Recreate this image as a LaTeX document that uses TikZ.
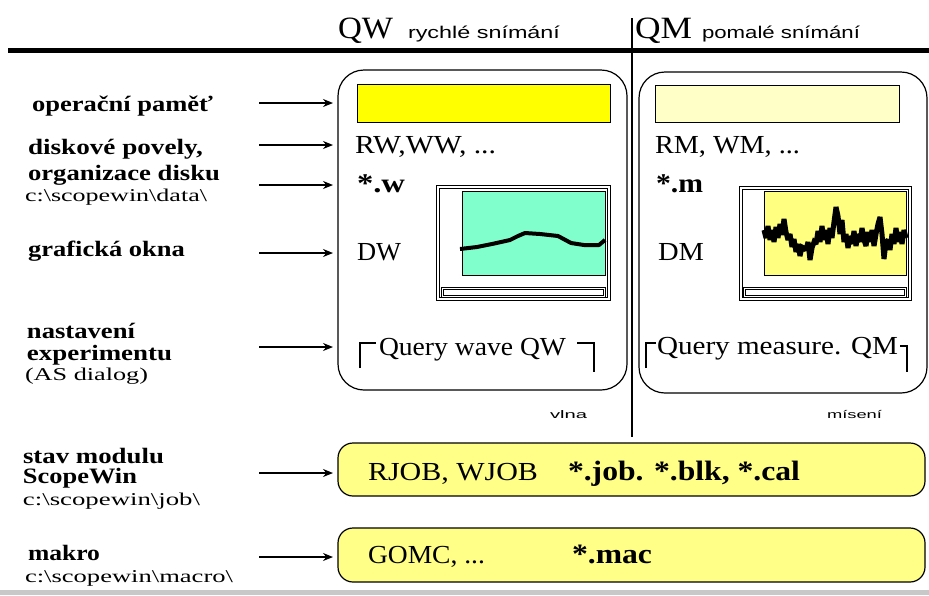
\documentclass[tikz,border=0pt]{standalone}
\usepackage{fontspec}
\usepackage{graphicx}
\setmainfont{Liberation Serif}
\newfontfamily\smallsans{Liberation Sans}
\usetikzlibrary{arrows.meta}
\newcommand\sw[2]{\resizebox{#1pt}{\height}{#2}}
\newcommand\bs{\textbackslash}
\definecolor{memY}{HTML}{FFFF00}
\definecolor{memPale}{HTML}{FFFFC8}
\definecolor{plotCyan}{HTML}{80FFCC}
\definecolor{plotYel}{HTML}{FFFF80}
\definecolor{pillY}{HTML}{FFFF88}
\definecolor{barGray}{HTML}{C8C8C8}
\begin{document}
\begin{tikzpicture}[x=1pt,y=-1pt,
  txt/.style={anchor=base west, inner sep=0pt, outer sep=0pt},
  lbl/.style={txt, font=\fontsize{22}{22}\selectfont\bfseries},
  pth/.style={txt, font=\fontsize{18}{18}\selectfont},
  big/.style={txt, font=\fontsize{26}{26}\selectfont},
  bigb/.style={txt, font=\fontsize{27}{27}\selectfont\bfseries},
  ttl/.style={txt, font=\fontsize{31}{31}\selectfont},
  sub/.style={txt, font=\smallsans\fontsize{17}{17}\selectfont},
  tiny/.style={txt, font=\smallsans\fontsize{11}{11}\selectfont},
  arr/.style={-{Stealth[length=10pt,width=8pt]}, line width=1.3pt},
  panel/.style={draw, line width=1.2pt, rounded corners=26pt},
  pill/.style={draw, line width=1.2pt, rounded corners=15pt, fill=pillY},
  frame/.style={draw, line width=0.8pt},
  brk/.style={draw, line width=1.2pt}]
\useasboundingbox (0,0) rectangle (929,595);
\fill[white] (0,0) rectangle (929,595);
\fill[barGray] (0,590) rectangle (929,595);
% header
\draw[line width=5pt] (8,50) -- (929,50);
\draw[line width=1.4pt] (632,18) -- (632,437);
\node[ttl] (qw) at (338,38) {\sw{55}{QW}};
\node[sub] (qwsub) at (408,38) {\sw{152}{rychlé snímání}};
\node[ttl] (qm) at (635,38) {\sw{57}{QM}};
\node[sub] (qmsub) at (702,38) {\sw{158}{pomalé snímání}};
% panels
\draw[panel] (338,70) rectangle (627,390);
\draw[panel] (639,72) rectangle (927,393);
\draw[fill=memY, line width=1pt] (357,84) rectangle (610,122);
\draw[fill=memPale, line width=1pt] (655,85) rectangle (899,122);
\node[big] (rw) at (355,153) {\sw{141}{RW,WW, ...}};
\node[big] (rm) at (655,153) {\sw{145}{RM, WM, ...}};
\node[bigb] (fw) at (357,192) {\sw{48}{*.w}};
\node[bigb] (fm) at (656,192) {\sw{47}{*.m}};
\node[big] (dw) at (357,260) {\sw{44}{DW}};
\node[big] (dm) at (658,260) {\sw{46}{DM}};
\node[big] (qwq) at (379,355) {\sw{187}{Query wave QW}};
\node[big] (qmq) at (657,354) {\sw{241}{Query measure. QM}};
\draw[brk] (360,368) -- (360,343) -- (376,343);
\draw[brk] (577,343) -- (594,343) -- (594,372);
\draw[brk] (646,368) -- (646,343) -- (656,343);
\draw[brk] (900,346) -- (907,346) -- (907,372);
% left graph window
\draw[frame] (436,185) rectangle (610,300);
\draw[frame] (439,188) rectangle (607,297);
\draw[fill=plotCyan, line width=1pt] (462,191) rectangle (605,275);
\draw[frame] (441,287) rectangle (605,297);
\draw[frame] (443,289) rectangle (603,295);
\draw[line width=4pt, line join=round] (460,249) -- (477,247) -- (492,244) -- (510,240) -- (518,236) -- (525,233) -- (540,234) -- (558,236) -- (571,243) -- (584,245) -- (599,245) -- (605,240);
% right graph window
\draw[frame] (739,186) rectangle (911,300);
\draw[frame] (742,189) rectangle (908,297);
\draw[fill=plotYel, line width=1pt] (764,191) rectangle (906,275);
\draw[frame] (743,287) rectangle (906,297);
\draw[frame] (745,289) rectangle (904,295);
\draw[line width=5pt, line join=miter, miter limit=2] (764,230) -- (766,238) -- (768,226) -- (770,240) -- (772,230) -- (774,242) -- (776,227) -- (778,238) -- (780,224) -- (782,235) -- (784,219) -- (786,232) -- (788,240) -- (790,234) -- (792,247) -- (794,239) -- (796,252) -- (798,244) -- (800,256) -- (802,247) -- (804,248) -- (806,250) -- (808,242) -- (810,260) -- (812,248) -- (814,242) -- (816,244) -- (818,231) -- (820,242) -- (822,226) -- (824,240) -- (826,230) -- (828,244) -- (830,228) -- (832,238) -- (834,222) -- (836,207) -- (838,216) -- (840,234) -- (842,220) -- (844,242) -- (846,234) -- (848,248) -- (850,236) -- (852,244) -- (854,231) -- (856,246) -- (858,234) -- (860,242) -- (862,228) -- (864,240) -- (866,246) -- (868,232) -- (870,242) -- (872,230) -- (874,246) -- (876,234) -- (878,224) -- (880,217) -- (882,234) -- (884,259) -- (886,242) -- (888,240) -- (890,250) -- (892,234) -- (894,244) -- (896,228) -- (898,242) -- (900,232) -- (902,244) -- (904,230) -- (906,238);
\node[tiny] (vlna) at (550,418) {\sw{37}{vlna}};
\node[tiny] (misen) at (827,418) {\sw{55}{mísení}};
% bottom pills
\draw[pill] (338,443) rectangle (925,496);
\draw[pill] (338,528) rectangle (925,582);
\node[big] (rjob) at (368,480) {\sw{170}{RJOB, WJOB}};
\node[txt, font=\fontsize{28}{28}\selectfont\bfseries] (jobf) at (568,480) {\sw{232}{*.job. *.blk, *.cal}};
\node[big] (gomc) at (368,563) {\sw{117}{GOMC, ...}};
\node[txt, font=\fontsize{28}{28}\selectfont\bfseries] (macf) at (572,563) {\sw{80}{*.mac}};
% left labels
\node[lbl] (l1) at (32,111) {\sw{181}{operační paměť}};
\node[lbl] (l2) at (28,154) {\sw{175}{diskové povely,}};
\node[lbl] (l3) at (28,180) {\sw{192}{organizace disku}};
\node[pth] (p3) at (25,201) {\sw{182}{c:\bs scopewin\bs data\bs}};
\node[lbl] (l4) at (28,256) {\sw{157}{grafická okna}};
\node[lbl] (l5a) at (27,338) {\sw{108}{nastavení}};
\node[lbl] (l5b) at (27,360) {\sw{145}{experimentu}};
\node[pth] (l5c) at (25,380) {\sw{123}{(AS dialog)}};
\node[lbl] (l6a) at (23,463) {\sw{141}{stav modulu}};
\node[lbl] (l6b) at (23,483) {\sw{114}{ScopeWin}};
\node[pth] (p6) at (23,505) {\sw{177}{c:\bs scopewin\bs job\bs}};
\node[lbl] (l7) at (28,560) {\sw{72}{makro}};
\node[pth] (p7) at (25,582) {\sw{208}{c:\bs scopewin\bs macro\bs}};
% arrows
\foreach \n/\yy in {1/103,2/145,3/185,4/253,5/347,6/473,7/557}{
  \coordinate (as\n) at (259,\yy);
  \coordinate (ae\n) at (333,\yy);
  \draw[arr] (as\n) -- (ae\n);
}
\end{tikzpicture}
\end{document}
